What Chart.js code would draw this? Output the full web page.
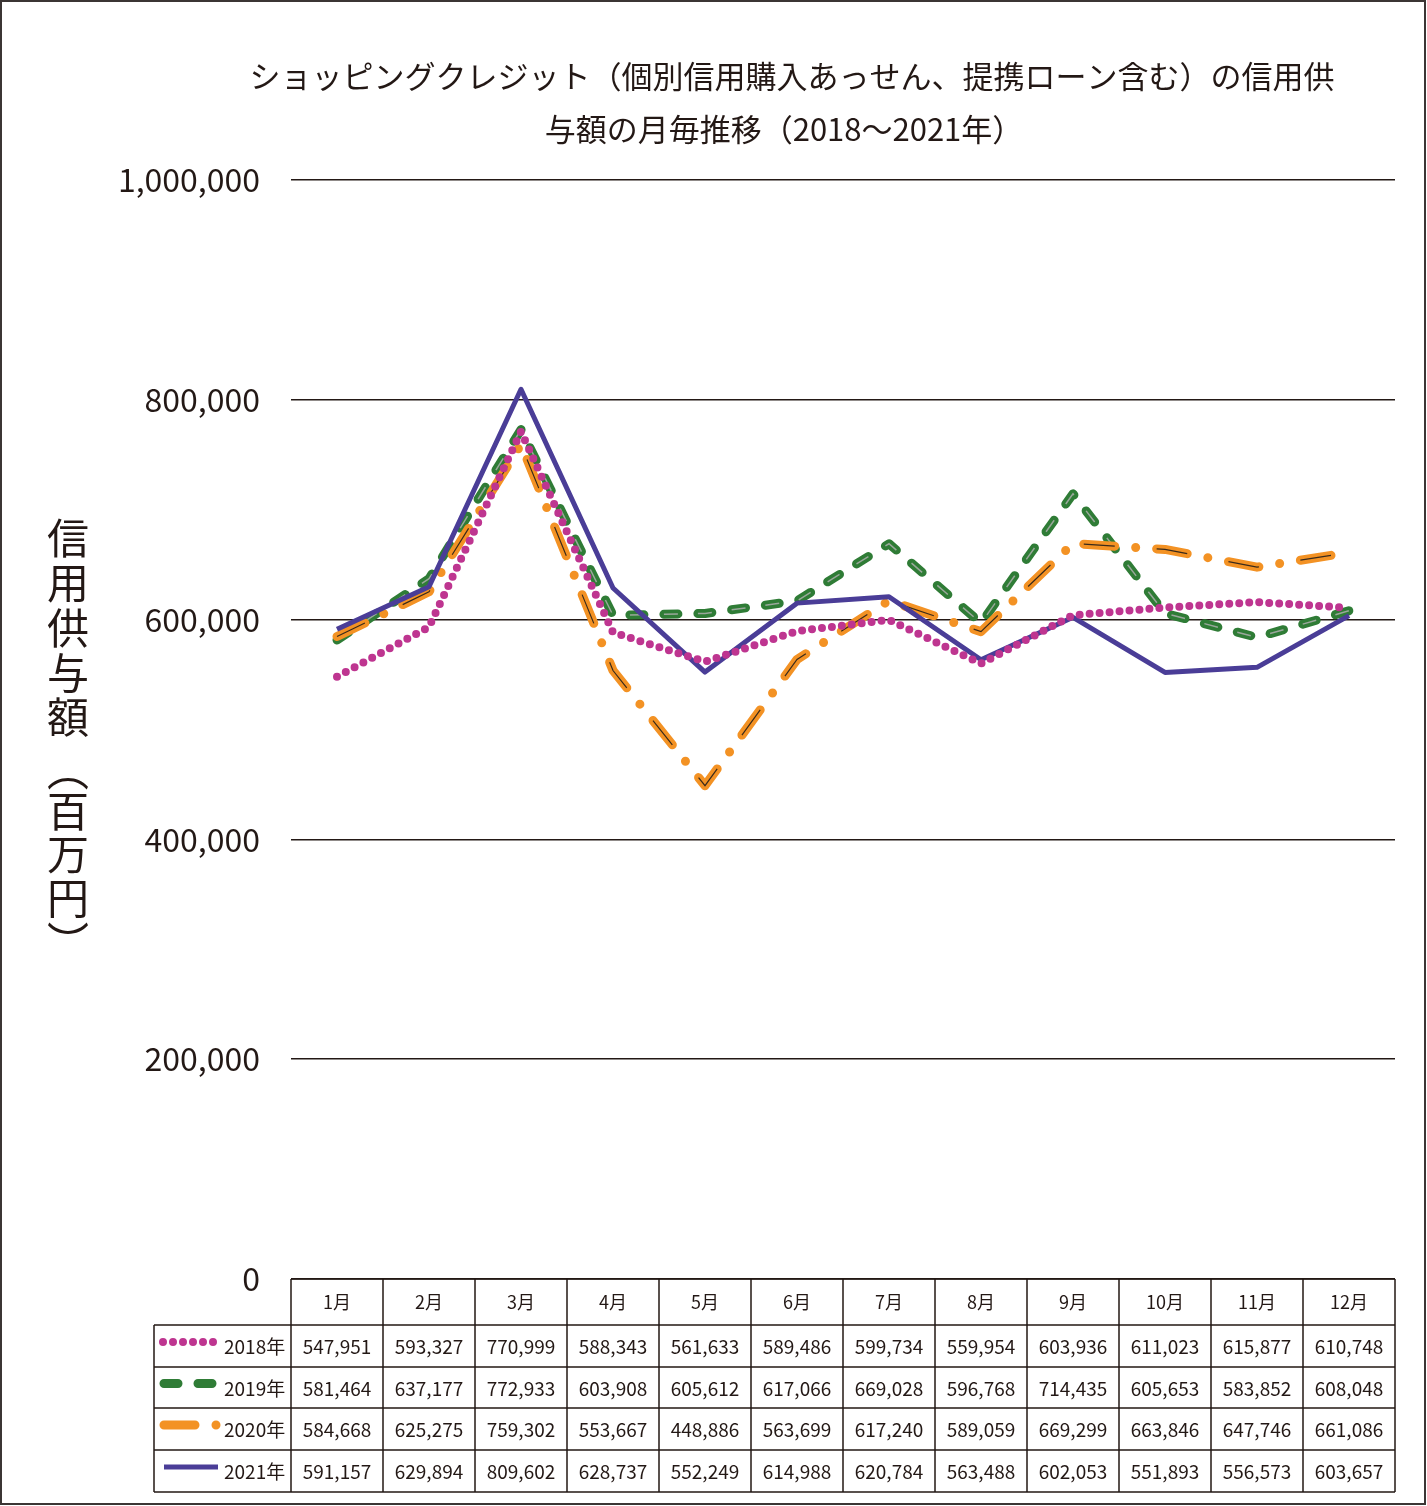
<!DOCTYPE html>
<html>
<head>
<meta charset="utf-8">
<script src="https://cdn.jsdelivr.net/npm/chart.js@4/dist/chart.umd.min.js"></script>
<style>
  body { margin: 0; background: #fff; }
  canvas { display: block; }
</style>
</head>
<body>
<canvas id="show_chart" width="1427" height="1506"></canvas>
<script>
// ===== DATA =====
const months = ['1月', '2月', '3月', '4月', '5月', '6月', '7月', '8月', '9月', '10月', '11月', '12月']
const seriesNames = ['2018年', '2019年', '2020年', '2021年']
const y2018 = [547951, 593327, 770999, 588343, 561633, 589486, 599734, 559954, 603936, 611023, 615877, 610748]
const y2019 = [581464, 637177, 772933, 603908, 605612, 617066, 669028, 596768, 714435, 605653, 583852, 608048]
const y2020 = [584668, 625275, 759302, 553667, 448886, 563699, 617240, 589059, 669299, 663846, 647746, 661086]
const y2021 = [591157, 629894, 809602, 628737, 552249, 614988, 620784, 563488, 602053, 551893, 556573, 603657]
const yTicks = [0, 200000, 400000, 600000, 800000, 1000000]
const titleLines = ['ショッピングクレジット（個別信用購入あっせん、提携ローン含む）の信用供', '与額の月毎推移（2018～2021年）']
const yTitle = ['信', '用', '供', '与', '額', '︵', '百', '万', '円', '︶']

const INK = '#231815'
const FONT = '"Noto Sans CJK JP", "Noto Sans", sans-serif'

// line styles for each series (also used for the table legend)
const styles = [
    { color: '#BE3590', width: 8, dash: [0, 10], cap: 'round' },
    { color: '#2F7C36', width: 9, dash: [14, 20], cap: 'round' },
    { color: '#F39224', width: 9, dash: [31, 21, 0, 21], cap: 'round' },
    { color: '#4A3D97', width: 5, dash: [], cap: 'butt' }
]
const allData = [y2018, y2019, y2020, y2021]
const drawOrder = [0, 3, 2, 1]

const datasets = allData.map((d, i) => ({
    label: seriesNames[i],
    data: d,
    borderColor: styles[i].color,
    borderWidth: styles[i].width,
    borderDash: styles[i].dash,
    borderCapStyle: styles[i].cap,
    borderJoinStyle: 'round',
    pointRadius: 0,
    tension: 0,
    order: drawOrder[i]
}))
// thin centre lines inside the green and orange dashes
datasets.push({ label: 'c2019', data: y2019, borderColor: '#9aa79b', borderWidth: 1.5, borderDash: [14, 20], borderCapStyle: 'butt', pointRadius: 0, order: 2.9 })
datasets.push({ label: 'c2020', data: y2020, borderColor: '#3a2a1a', borderWidth: 1.2, borderDash: [31, 42], borderCapStyle: 'butt', pointRadius: 0, order: 1.9 })

// ===== TITLE, TABLE + FRAME PLUGIN =====
const tablePlugin = {
    id: 'tablePlugin',
    afterDraw(chart) {
        const c = chart.ctx
        const area = chart.chartArea
        const x = chart.scales.x
        const colW = (area.right - area.left) / months.length
        const top = area.bottom
        const rows = [top + 46, top + 88, top + 129, top + 171, top + 213]
        const legL = 154

        c.save()
        // title
        c.fillStyle = INK
        c.font = '31px ' + FONT
        c.textAlign = 'center'
        c.textBaseline = 'middle'
        c.fillText(titleLines[0], 792, 76)
        c.fillText(titleLines[1], 784, 129)

        c.strokeStyle = INK
        c.lineWidth = 1.5
        c.beginPath()
        c.moveTo(area.left, top); c.lineTo(area.right, top)
        rows.forEach(r => { c.moveTo(legL, r); c.lineTo(area.right, r) })
        for (let k = 0; k <= months.length; k++) {
            const px = area.left + k * colW
            c.moveTo(px, top); c.lineTo(px, rows[rows.length - 1])
        }
        c.moveTo(legL, rows[0]); c.lineTo(legL, rows[rows.length - 1])
        c.stroke()

        // values
        c.font = '19px ' + FONT
        allData.forEach((d, i) => {
            const cy = (rows[i] + rows[i + 1]) / 2
            d.forEach((v, j) => {
                c.fillText(v.toLocaleString('en-US'), x.getPixelForValue(j), cy + 1)
            })
            // legend sample
            const s = styles[i]
            c.save()
            c.strokeStyle = s.color
            c.lineWidth = s.width
            c.lineCap = s.cap
            c.setLineDash(s.dash)
            c.beginPath()
            c.moveTo(i === 0 ? 163 : 164, cy - 4)
            c.lineTo(i === 0 ? 214 : 218, cy - 4)
            c.stroke()
            c.restore()
            c.textAlign = 'left'
            c.fillText(seriesNames[i], 224, cy + 1)
            c.textAlign = 'center'
        })

        // outer frame
        c.lineWidth = 2
        c.strokeStyle = '#3b3534'
        c.strokeRect(1, 1, chart.width - 3, chart.height - 3)

        // vertical y axis title
        c.font = '42px ' + FONT
        const ys = [538, 583, 628, 673, 717, 770, 811, 854, 898, 942]
        yTitle.forEach((ch, i) => c.fillText(ch, 68, ys[i]))
        c.restore()
    }
}

new Chart(document.querySelector('#show_chart').getContext('2d'), {
    type: 'line',
    data: { labels: months, datasets: datasets },
    plugins: [tablePlugin],
    options: {
        responsive: false,
        animation: false,
        devicePixelRatio: 1,
        layout: { padding: { left: 0, right: 32, top: 180, bottom: 0 } },
        plugins: {
            legend: { display: false },
            tooltip: { enabled: false },
            title: { display: false }
        },
        scales: {
            x: {
                offset: true,
                grid: { display: false, drawTicks: false },
                border: { display: false },
                ticks: { color: INK, font: { family: FONT, size: 18 }, padding: 12, maxRotation: 0 },
                afterFit(scale) { scale.height = 227 }
            },
            y: {
                min: 0,
                max: 1000000,
                afterBuildTicks(scale) { scale.ticks = yTicks.map(v => ({ value: v })) },
                grid: { color: INK, lineWidth: 1.5, drawTicks: false },
                border: { display: false },
                ticks: {
                    color: INK,
                    padding: 31,
                    font: { family: FONT, size: 32 },
                    callback: v => v.toLocaleString('en-US')
                },
                afterFit(scale) { scale.width = 291 }
            }
        }
    }
})
</script>
</body>
</html>
